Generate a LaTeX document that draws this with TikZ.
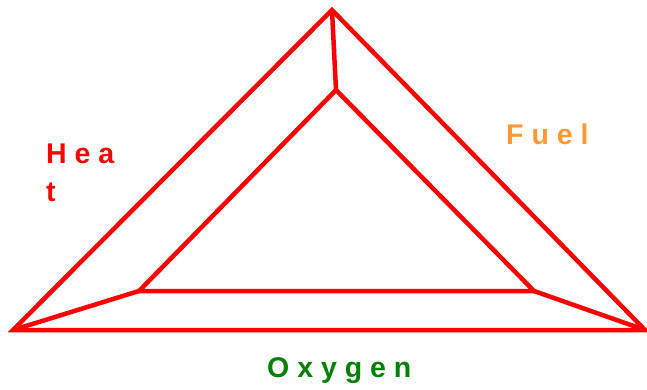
\documentclass[tikz,border=0pt]{standalone}
\usepackage{fontspec}
\setmainfont{Liberation Sans}
\definecolor{fuelorange}{RGB}{255,153,51}
\definecolor{oxgreen}{RGB}{0,128,0}
\tikzset{
  edge/.style={draw=red, line width=4.5pt, line join=miter},
  lbl/.style={inner sep=0pt, anchor=base west, font=\fontsize{28.5}{38}\selectfont\bfseries}
}
\begin{document}
\begin{tikzpicture}[x=1pt,y=-1pt]
\useasboundingbox (0,0) rectangle (647,389);
\coordinate (ot) at (332,10);
\coordinate (ol) at (13,330);
\coordinate (or) at (645,330);
\coordinate (it) at (336,90);
\coordinate (il) at (139,291);
\coordinate (ir) at (534,291);
\draw[edge] (ot) -- (or) -- (ol) -- cycle;
\draw[edge] (it) -- (ir) -- (il) -- cycle;
\draw[edge] (ot) -- (it);
\draw[edge] (ol) -- (il);
\draw[edge] (or) -- (ir);
\node[lbl, text=red, align=left] (heat) at (46,201) {H e a\\t};
\node[lbl, text=fuelorange] (fuel) at (506,144) {F u e l};
\node[lbl, text=oxgreen] (oxy) at (267,377) {O x y g e n};
\end{tikzpicture}
\end{document}
